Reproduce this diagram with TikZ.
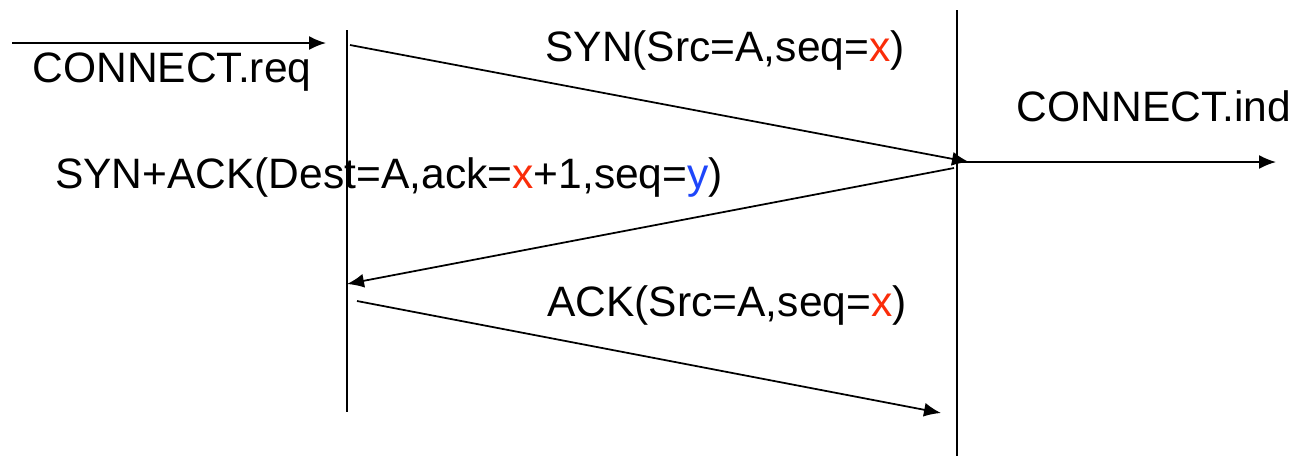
\documentclass[tikz,border=0pt]{standalone}
\usepackage{fontspec}
\setmainfont{Liberation Sans}
\usetikzlibrary{arrows.meta}

\definecolor{seqred}{RGB}{250,45,10}
\definecolor{seqblue}{RGB}{30,70,250}

\tikzset{
  msg/.style={line width=1pt,-{Latex[length=3.4mm,width=2.8mm]}},
  life/.style={line width=1pt},
  lbl/.style={anchor=base,inner sep=0pt,font=\fontsize{24.2}{28}\selectfont}
}

\begin{document}
\begin{tikzpicture}[x=0.2mm,y=-0.2mm]
\useasboundingbox (0,0) rectangle (1294,456);

% the two stations
\coordinate (aTop) at (347,30);
\coordinate (aBot) at (347,412);
\coordinate (bTop) at (957,10);
\coordinate (bBot) at (957,456);
\draw[life] (aTop) -- (aBot);
\draw[life] (bTop) -- (bBot);

% user primitives
\coordinate (reqFrom) at (12,43);
\coordinate (reqTo) at (326,43);
\coordinate (indFrom) at (957,162);
\coordinate (indTo) at (1276,162);
\draw[msg] (reqFrom) -- (reqTo);
\draw[msg] (indFrom) -- (indTo);
\node[lbl] (req) at (172,82) {CONNECT.req};
\node[lbl] (ind) at (1154,121) {CONNECT.ind};

% three-way handshake
\coordinate (synFrom) at (350,45);
\coordinate (synTo) at (969,162);
\coordinate (sakFrom) at (954,168);
\coordinate (sakTo) at (347,284);
\coordinate (ackFrom) at (357,301);
\coordinate (ackTo) at (941,413);
\draw[msg] (synFrom) -- (synTo);
\draw[msg] (sakFrom) -- (sakTo);
\draw[msg] (ackFrom) -- (ackTo);

\node[lbl] (syn) at (725,61) {SYN(Src=A,seq=\textcolor{seqred}{x})};
\node[lbl] (sak) at (389,188) {SYN+ACK(Dest=A,ack=\textcolor{seqred}{x}+1,seq=\textcolor{seqblue}{y})};
\node[lbl] (ack) at (727,316) {ACK(Src=A,seq=\textcolor{seqred}{x})};
\end{tikzpicture}
\end{document}
